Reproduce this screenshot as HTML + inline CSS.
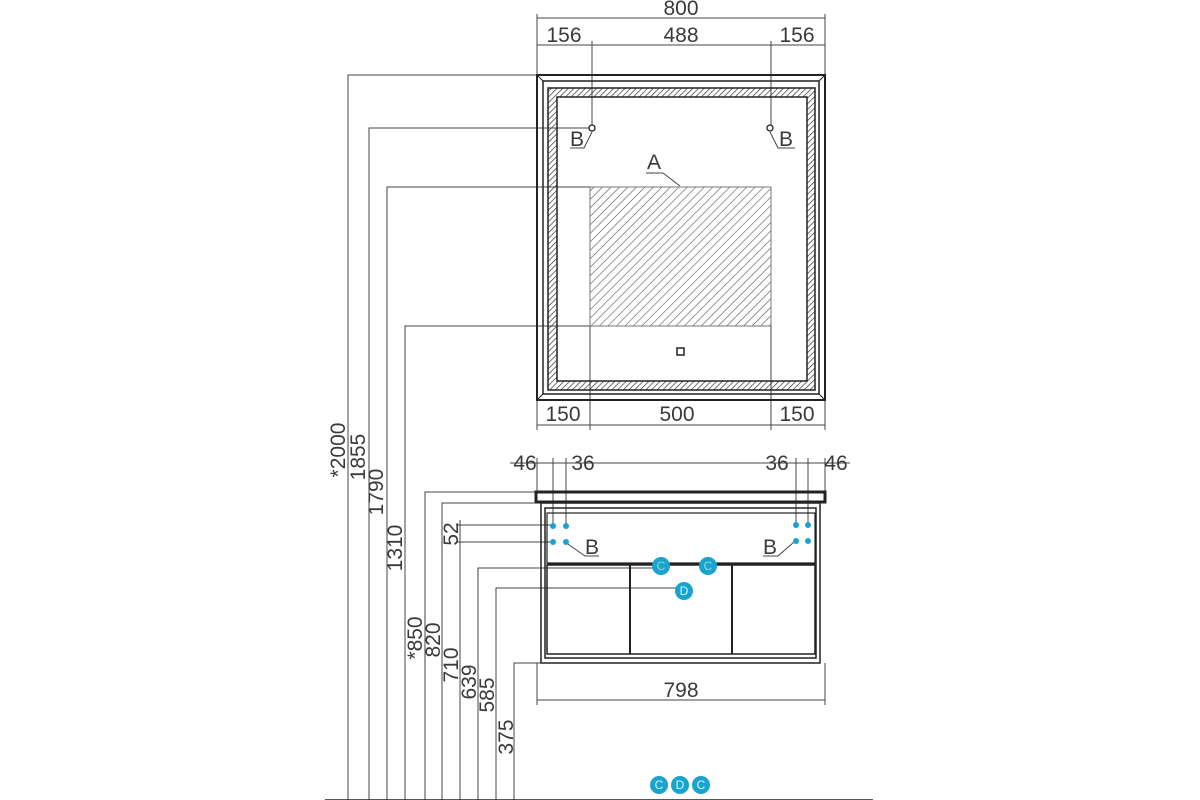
<!DOCTYPE html>
<html><head><style>body{margin:0;background:#fff}svg{display:block}text{font-family:"Liberation Sans",sans-serif;font-size:21px;fill:#3a3a3a}</style></head><body>
<svg width="1200" height="800" viewBox="0 0 1200 800">
<defs><pattern id="h" width="6" height="6" patternUnits="userSpaceOnUse" patternTransform="rotate(45)"><line x1="0" y1="0" x2="0" y2="6" stroke="#555" stroke-width="1.2"/></pattern>
<pattern id="h2" width="4" height="4" patternUnits="userSpaceOnUse" patternTransform="rotate(45)"><line x1="0" y1="0" x2="0" y2="4" stroke="#333" stroke-width="1.4"/></pattern></defs>
<g stroke="#444" stroke-width="1" fill="none">
<line x1="537" y1="18" x2="825" y2="18"/><line x1="537" y1="45" x2="825" y2="45"/>
<line x1="537" y1="14" x2="537" y2="75"/><line x1="825" y1="14" x2="825" y2="75"/>
<line x1="592" y1="41" x2="592" y2="125"/><line x1="771" y1="41" x2="771" y2="125"/>
<line x1="537" y1="425" x2="825" y2="425"/>
<line x1="537" y1="400" x2="537" y2="430"/><line x1="825" y1="400" x2="825" y2="430"/>
<line x1="590" y1="326" x2="590" y2="430"/><line x1="771" y1="326" x2="771" y2="430"/>
<polyline points="348,800 348,75 537,75"/>
<polyline points="369,800 369,128 589,128"/>
<polyline points="387,800 387,187 590,187"/>
<polyline points="405,800 405,326 590,326"/>
<polyline points="425,800 425,492 536,492"/>
<polyline points="442,800 442,503 541,503"/>
<polyline points="460,520 460,800"/>
<line x1="456" y1="525" x2="553" y2="525"/><line x1="456" y1="542" x2="553" y2="542"/>
<polyline points="478,800 478,568 660,568"/>
<polyline points="496,800 496,588 684,588"/>
<polyline points="514,800 514,663 541,663"/>
<line x1="325" y1="800" x2="873" y2="800" stroke="#222" stroke-width="1.5"/>
<line x1="510" y1="463" x2="850" y2="463"/>
<line x1="537" y1="458" x2="537" y2="492"/><line x1="825" y1="458" x2="825" y2="492"/>
<line x1="553" y1="458" x2="553" y2="525"/><line x1="566" y1="458" x2="566" y2="525"/>
<line x1="796" y1="458" x2="796" y2="525"/><line x1="808" y1="458" x2="808" y2="525"/>
<line x1="537" y1="663" x2="537" y2="705"/><line x1="825" y1="663" x2="825" y2="705"/>
<line x1="537" y1="700" x2="825" y2="700"/>
<polyline points="570,148 584,148 592,132"/><polyline points="795,148 778,148 770,132"/>
<polyline points="646,173 663,173 680,186"/>
<polyline points="565,542 585,556 599,556"/><polyline points="763,556 778,556 794,542"/>
</g>
<g fill="none" stroke="#222">
<rect x="537" y="75" width="288" height="325" stroke-width="2"/>
<rect x="543" y="81" width="276" height="313" stroke-width="1.5"/>
<line x1="537" y1="75" x2="543" y2="81"/><line x1="825" y1="75" x2="819" y2="81"/><line x1="537" y1="400" x2="543" y2="394"/><line x1="825" y1="400" x2="819" y2="394"/>
<path d="M548 88H815V390H548Z M557 97V381H807V97Z" fill="url(#h2)" fill-rule="evenodd" stroke-width="1.5"/>
<rect x="590" y="187" width="181" height="139" fill="url(#h)" stroke="#777"/>
<rect x="677" y="348" width="7" height="7" stroke-width="1.5"/>
<circle cx="592" cy="128" r="3" fill="#fff" stroke-width="1.3"/><circle cx="770" cy="128" r="3" fill="#fff" stroke-width="1.3"/>
</g>
<g fill="none" stroke="#222" stroke-width="2">
<rect x="536" y="492" width="289" height="10" stroke-width="3"/>
<rect x="541" y="503" width="279" height="160" stroke-width="1.5"/>
<rect x="545" y="508" width="271" height="150" stroke-width="1.5"/>
<rect x="547" y="513" width="268" height="50" stroke-width="1.2"/>
<line x1="547" y1="564" x2="815" y2="564"/>
<rect x="547" y="565" width="268" height="89" stroke-width="1.5"/>
<line x1="630" y1="565" x2="630" y2="654"/><line x1="732" y1="565" x2="732" y2="654"/>
</g>
<g fill="#1aa3cc">
<circle cx="553" cy="526" r="3"/><circle cx="566" cy="526" r="3"/><circle cx="553" cy="542" r="3"/><circle cx="566" cy="542" r="3"/>
<circle cx="796" cy="525" r="3"/><circle cx="808" cy="525" r="3"/><circle cx="796" cy="541" r="3"/><circle cx="808" cy="541" r="3"/>
<circle cx="661" cy="566" r="9"/><circle cx="708" cy="566" r="9"/><circle cx="684" cy="591" r="9"/>
<circle cx="659" cy="785" r="9"/><circle cx="680" cy="785" r="9"/><circle cx="701" cy="785" r="9"/>
</g>
<g text-anchor="middle"><text x="661" y="570" style="fill:#8dd;font-size:12px">C</text><text x="708" y="570" style="fill:#8dd;font-size:12px">C</text><text x="684" y="595" style="fill:#cff;font-size:12px">D</text>
<text x="659" y="789" style="fill:#cff;font-size:12px">C</text><text x="680" y="789" style="fill:#cff;font-size:12px">D</text><text x="701" y="789" style="fill:#cff;font-size:12px">C</text></g>
<g text-anchor="middle">
<text x="681" y="15">800</text><text x="564" y="42">156</text><text x="681" y="42">488</text><text x="797" y="42">156</text>
<text x="563" y="421">150</text><text x="677" y="421">500</text><text x="797" y="421">150</text>
<text x="525" y="470">46</text><text x="583" y="470">36</text><text x="777" y="470">36</text><text x="836" y="470">46</text>
<text x="681" y="697">798</text>
<text x="577" y="146">B</text><text x="786" y="146">B</text><text x="654" y="169">A</text>
<text x="592" y="554">B</text><text x="770" y="554">B</text>
</g>
<g text-anchor="middle">
<text transform="translate(345,450) rotate(-90)">*2000</text>
<text transform="translate(365,457) rotate(-90)">1855</text>
<text transform="translate(383,492) rotate(-90)">1790</text>
<text transform="translate(402,548) rotate(-90)">1310</text>
<text transform="translate(422,638) rotate(-90)">*850</text>
<text transform="translate(440,640) rotate(-90)">820</text>
<text transform="translate(458,534) rotate(-90)">52</text>
<text transform="translate(458,665) rotate(-90)">710</text>
<text transform="translate(476,682) rotate(-90)">639</text>
<text transform="translate(494,695) rotate(-90)">585</text>
<text transform="translate(513,737) rotate(-90)">375</text>
</g>
</svg>
</body></html>
